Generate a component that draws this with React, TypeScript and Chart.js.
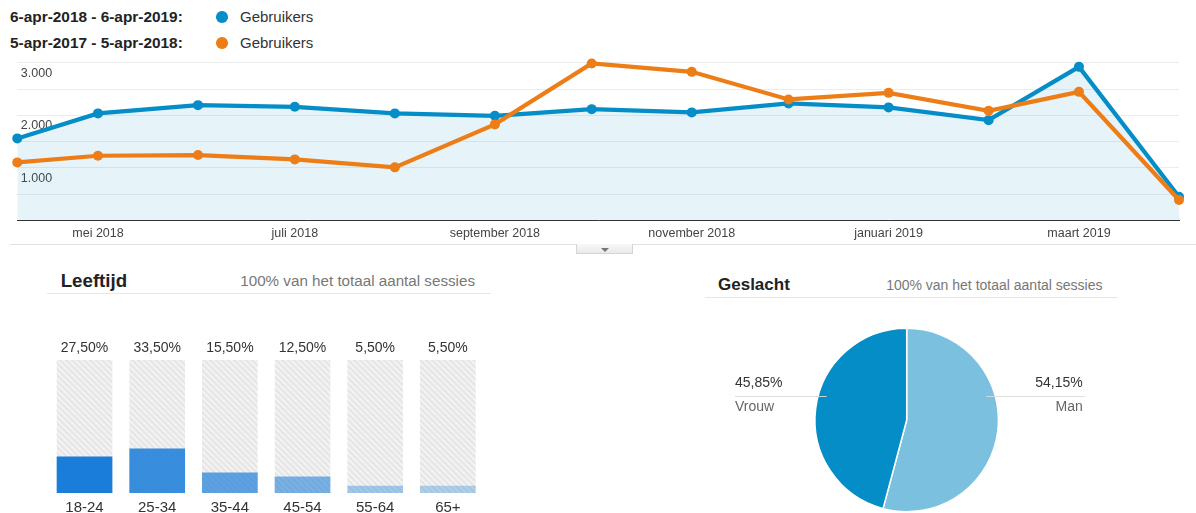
import React, { useEffect, useRef } from 'react';
import { Chart, registerables } from 'chart.js';

Chart.register(...registerables);

// ---------- data ----------
const pointDates = ['2018-04-06', '2018-05-01', '2018-06-01', '2018-07-01', '2018-08-01', '2018-09-01', '2018-10-01', '2018-11-01', '2018-12-01', '2019-01-01', '2019-02-01', '2019-03-01', '2019-04-01'];
const usersCurrent = [1561, 2036, 2193, 2161, 2036, 1990, 2117, 2055, 2226, 2150, 1908, 2921, 452];
const usersPrevious = [1105, 1231, 1244, 1162, 1010, 1827, 2985, 2826, 2302, 2427, 2085, 2446, 389];
const xTickDates = ['2018-05-01', '2018-07-01', '2018-09-01', '2018-11-01', '2019-01-01', '2019-03-01'];
const xTickLabels = ['mei 2018', 'juli 2018', 'september 2018', 'november 2018', 'januari 2019', 'maart 2019'];
const yTickValues = [1000, 2000, 3000];
const currentRangeLabel = '6-apr-2018 - 6-apr-2019:';
const previousRangeLabel = '5-apr-2017 - 5-apr-2018:';
const metricLabel = 'Gebruikers';

const ageGroups = ['18-24', '25-34', '35-44', '45-54', '55-64', '65+'];
const agePercent = [27.5, 33.5, 15.5, 12.5, 5.5, 5.5];
const ageTrack = [100, 100, 100, 100, 100, 100];

const genderLabels = ['Man', 'Vrouw'];
const genderPercent = [54.15, 45.85];

const panelSubtitle = '100% van het totaal aantal sessies';

// ---------- styles ----------
const FONT = "'Liberation Sans', Arial, sans-serif";
const BLUE = '#058dc7';
const ORANGE = '#ed7e17';
const ageAlpha = [1, 0.86, 0.69, 0.56, 0.37, 0.31];
const genderColors = ['#7cc0e0', '#058dc7'];

const DAY = 86400000;
const dayOffset = (d: string) => Math.round((Date.parse(d) - Date.parse(pointDates[0])) / DAY);
const fmtThousands = (v: number) => String(v).replace(/\B(?=(\d{3})+(?!\d))/g, '.');
const fmtPct = (p: number) => p.toFixed(2).replace('.', ',') + '%';

function makeHatch(): CanvasPattern | string {
  const c = document.createElement('canvas');
  c.width = 6;
  c.height = 6;
  const g = c.getContext('2d');
  if (!g) return '#e9e9e9';
  g.fillStyle = '#e7e7e7';
  g.fillRect(0, 0, 6, 6);
  g.strokeStyle = '#f7f7f7';
  g.lineWidth = 1.4;
  for (const k of [-6, 0, 6]) {
    g.beginPath();
    g.moveTo(k, 0);
    g.lineTo(k + 6, 6);
    g.stroke();
  }
  return g.createPattern(c, 'repeat') || '#e9e9e9';
}

function LineChart() {
  const ref = useRef<HTMLCanvasElement>(null);
  useEffect(() => {
    if (!ref.current) return;
    const toPts = (arr: number[]) => arr.map((y, i) => ({ x: dayOffset(pointDates[i]), y }));
    const chart = new Chart(ref.current, {
      type: 'line',
      data: {
        datasets: [
          {
            label: metricLabel + ' (vorige periode)',
            data: toPts(usersPrevious),
            borderColor: ORANGE,
            backgroundColor: ORANGE,
            pointBackgroundColor: ORANGE,
            pointBorderColor: ORANGE,
            borderWidth: 4.2,
            pointRadius: 5,
            pointBorderWidth: 0,
            fill: false,
            tension: 0,
            order: 0,
            clip: false as any,
          },
          {
            label: metricLabel,
            data: toPts(usersCurrent),
            borderColor: BLUE,
            backgroundColor: 'rgba(5,141,199,0.1)',
            pointBackgroundColor: BLUE,
            pointBorderColor: BLUE,
            borderWidth: 4.2,
            pointRadius: 5,
            pointBorderWidth: 0,
            fill: 'origin',
            tension: 0,
            order: 1,
            clip: false as any,
          },
        ],
      },
      options: {
        animation: false,
        responsive: false,
        maintainAspectRatio: false,
        layout: { padding: { left: 17.3, right: 17, top: 12.7, bottom: 0 } },
        plugins: { legend: { display: false }, tooltip: { enabled: false } },
        scales: {
          x: {
            type: 'linear',
            min: 0,
            max: dayOffset(pointDates[pointDates.length - 1]),
            grid: { display: false, drawTicks: false },
            border: { display: true, color: '#333', width: 1 },
            ticks: {
              autoSkip: false,
              maxRotation: 0,
              padding: 6,
              color: '#444',
              font: { family: FONT, size: 12.5 },
              callback: (v: any) => {
                const i = xTickDates.findIndex((d) => dayOffset(d) === v);
                return i >= 0 ? xTickLabels[i] : '';
              },
            },
            afterBuildTicks: (s: any) => {
              s.ticks = xTickDates.map((d) => ({ value: dayOffset(d) }));
            },
            afterFit: (s: any) => {
              s.height = 23.5;
            },
          },
          y: {
            min: 0,
            max: 3000,
            grid: { color: '#ececec', drawTicks: false },
            border: { display: false },
            ticks: {
              stepSize: 500,
              mirror: true,
              padding: 3.5,
              labelOffset: 10.5,
              color: '#444',
              font: { family: FONT, size: 12.5 },
              callback: (v: any) => (yTickValues.includes(v) ? fmtThousands(v) : ''),
            },
            afterFit: (s: any) => {
              s.width = 0;
            },
          },
        },
      },
    });
    return () => chart.destroy();
  }, []);
  return <canvas ref={ref} width={1196} height={194} style={{ position: 'absolute', left: 0, top: 50, width: 1196, height: 194 }} />;
}

function AgeChart() {
  const ref = useRef<HTMLCanvasElement>(null);
  useEffect(() => {
    if (!ref.current) return;
    const hatch = makeHatch();
    const chart = new Chart(ref.current, {
      type: 'bar',
      data: {
        labels: ageGroups,
        datasets: [
          {
            label: 'Leeftijd',
            data: agePercent,
            backgroundColor: ageAlpha.map((a) => `rgba(26,125,217,${a})`),
            grouped: false,
            order: 0,
            barPercentage: 0.766,
            categoryPercentage: 1,
          },
          {
            label: 'track',
            data: ageTrack,
            backgroundColor: hatch as any,
            grouped: false,
            order: 1,
            barPercentage: 0.766,
            categoryPercentage: 1,
          },
        ],
      },
      options: {
        animation: false,
        responsive: false,
        maintainAspectRatio: false,
        layout: { padding: { left: 8.2, right: 15.8, top: 0, bottom: 0 } },
        plugins: { legend: { display: false }, tooltip: { enabled: false } },
        scales: {
          x: {
            type: 'category',
            position: 'bottom',
            grid: { display: false, drawTicks: false },
            border: { display: false },
            ticks: { color: '#333', padding: 6, font: { family: FONT, size: 15 } },
            afterFit: (s: any) => {
              s.height = 20;
            },
          },
          xTop: {
            type: 'category',
            position: 'top',
            labels: agePercent.map(fmtPct),
            grid: { display: false, drawTicks: false },
            border: { display: false },
            ticks: { color: '#333', padding: 3, font: { family: FONT, size: 14 } },
            afterFit: (s: any) => {
              s.height = 35;
            },
          },
          y: { display: false, min: 0, max: 100 },
        },
      },
    });
    return () => chart.destroy();
  }, []);
  return <canvas ref={ref} width={460} height={188} style={{ position: 'absolute', left: 40, top: 325, width: 460, height: 188 }} />;
}

function GenderChart() {
  const ref = useRef<HTMLCanvasElement>(null);
  useEffect(() => {
    if (!ref.current) return;
    const labelPlugin = {
      id: 'genderLabels',
      afterDraw(chart: any) {
        const arc = chart.getDatasetMeta(0).data[0];
        if (!arc) return;
        const { x: cx, y: cy } = arc;
        const ctx = chart.ctx;
        const ca = chart.chartArea;
        const lineY = Math.round(cy - 24.3) + 0.5;
        ctx.save();
        ctx.strokeStyle = 'rgba(218,218,218,0.9)';
        ctx.lineWidth = 1;
        const lx = ca.left - 79.2;
        ctx.beginPath();
        ctx.moveTo(lx, lineY);
        ctx.lineTo(cx - 80, lineY);
        ctx.stroke();
        const rx = cx + 176;
        ctx.beginPath();
        ctx.moveTo(cx + 79.3, lineY);
        ctx.lineTo(rx + 2, lineY);
        ctx.stroke();
        ctx.font = `14px ${FONT}`;
        ctx.textBaseline = 'middle';
        ctx.textAlign = 'left';
        ctx.fillStyle = '#333';
        ctx.fillText(fmtPct(genderPercent[1]), lx, cy - 37.3);
        ctx.fillStyle = '#666';
        ctx.fillText(genderLabels[1], lx, cy - 13.3);
        ctx.textAlign = 'right';
        ctx.fillStyle = '#333';
        ctx.fillText(fmtPct(genderPercent[0]), rx, cy - 37.3);
        ctx.fillStyle = '#666';
        ctx.fillText(genderLabels[0], rx, cy - 13.3);
        ctx.restore();
      },
    };
    const chart = new Chart(ref.current, {
      type: 'pie',
      data: {
        labels: genderLabels,
        datasets: [{ data: genderPercent, backgroundColor: genderColors, borderColor: '#fff', borderWidth: 1.5 }],
      },
      options: {
        animation: false,
        responsive: false,
        maintainAspectRatio: false,
        layout: { padding: { left: 109.2, right: 118.8, top: 29.5, bottom: 0.5 } },
        plugins: { legend: { display: false }, tooltip: { enabled: false } },
      },
      plugins: [labelPlugin],
    });
    return () => chart.destroy();
  }, []);
  return <canvas ref={ref} width={413} height={215} style={{ position: 'absolute', left: 705, top: 298, width: 413, height: 215 }} />;
}

function Txt(props: { x: number; y: number; size: number; bold?: boolean; color: string; right?: boolean; children: React.ReactNode }) {
  const { x, y, size, bold, color, right, children } = props;
  const style: React.CSSProperties = {
    position: 'absolute',
    top: y - 12,
    height: 24,
    lineHeight: '24px',
    fontSize: size,
    fontWeight: bold ? 700 : 400,
    color,
    fontFamily: FONT,
    whiteSpace: 'nowrap',
  };
  if (right) style.right = 1196 - x;
  else style.left = x;
  return <div style={style}>{children}</div>;
}

function Dot({ x, y, color }: { x: number; y: number; color: string }) {
  return <div style={{ position: 'absolute', left: x - 5.8, top: y - 5.8, width: 11.6, height: 11.6, borderRadius: '50%', background: color }} />;
}

export default function App() {
  return (
    <div style={{ position: 'fixed', left: 0, top: 0, width: 1196, height: 513, background: '#fff', overflow: 'hidden', fontFamily: FONT }}>
      <Txt x={10} y={17} size={15.4} bold color="#222">{currentRangeLabel}</Txt>
      <Dot x={222} y={17} color={BLUE} />
      <Txt x={240} y={17} size={15} color="#333">{metricLabel}</Txt>
      <Txt x={10} y={43} size={15.4} bold color="#222">{previousRangeLabel}</Txt>
      <Dot x={222} y={43} color={ORANGE} />
      <Txt x={240} y={43} size={15} color="#333">{metricLabel}</Txt>

      <LineChart />

      <div style={{ position: 'absolute', left: 10, top: 244, width: 1186, height: 1, background: '#e0e0e0' }} />
      <div style={{ position: 'absolute', left: 576, top: 244, width: 57, height: 10, background: 'linear-gradient(#f8f8f8,#e9e9e9)', border: '1px solid #d4d4d4', borderTop: 'none', boxSizing: 'border-box' }} />
      <div style={{ position: 'absolute', left: 601, top: 247.5, width: 0, height: 0, borderLeft: '4px solid transparent', borderRight: '4px solid transparent', borderTop: '4px solid #777' }} />

      <Txt x={60.7} y={280.7} size={18.7} bold color="#222">Leeftijd</Txt>
      <Txt x={475} y={280.7} size={15.2} color="#777" right>{panelSubtitle}</Txt>
      <div style={{ position: 'absolute', left: 47, top: 293, width: 444, height: 1, background: '#e6e6e6' }} />
      <AgeChart />

      <Txt x={718} y={285} size={17} bold color="#222">Geslacht</Txt>
      <Txt x={1102.5} y={285} size={14} color="#777" right>{panelSubtitle}</Txt>
      <div style={{ position: 'absolute', left: 705, top: 297, width: 413, height: 1, background: '#e6e6e6' }} />
      <GenderChart />
    </div>
  );
}
